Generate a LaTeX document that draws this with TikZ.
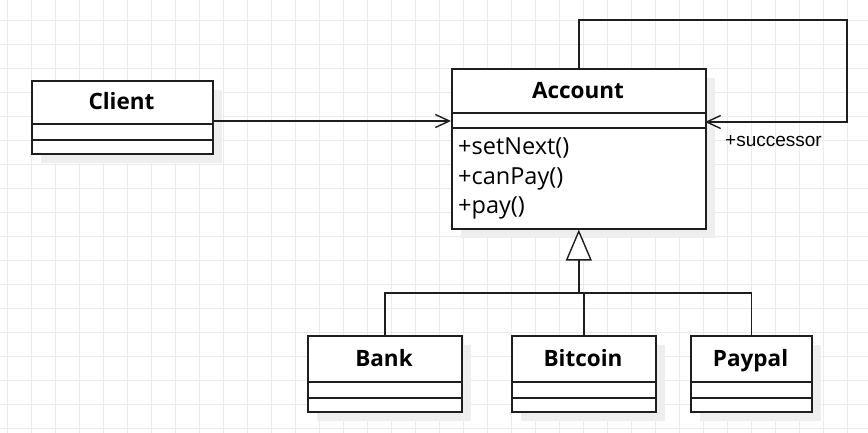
\documentclass[tikz,border=0pt]{standalone}
\usepackage{fontspec}
\setmainfont{Open Sans}
\newfontfamily\arialf{Liberation Sans}
\usetikzlibrary{arrows.meta}
\definecolor{gridc}{HTML}{EBEBEB}
\definecolor{shadowc}{HTML}{EEEEEE}
\definecolor{ink}{HTML}{1E1E1E}
\begin{document}
\begin{tikzpicture}[x=1pt,y=-1pt,
  box/.style={draw=ink, line width=1.6pt, fill=white, inner sep=0pt, anchor=north west},
  cname/.style={font=\fontsize{22.5}{24}\selectfont\bfseries, text=black, inner sep=0pt, anchor=base},
  meth/.style={font=\fontsize{23.5}{24}\selectfont, anchor=base west, inner sep=0pt, text=black},
  conn/.style={draw=ink, line width=1.4pt},
  divl/.style={draw=ink, line width=1.6pt}
]
\useasboundingbox (0,0) rectangle (868,433);
\fill[white] (0,0) rectangle (868,433);
\foreach \i in {0,...,35} \draw[gridc, line width=1pt] (7.5+24*\i,0) -- (7.5+24*\i,433);
\foreach \i in {0,...,17} \draw[gridc, line width=1pt] (0,20.5+24*\i) -- (868,20.5+24*\i);

% shadows
\fill[shadowc] (41,90) rectangle (222,163);
\fill[shadowc] (461,78) rectangle (715,238);
\fill[shadowc] (317,345) rectangle (471,421);
\fill[shadowc] (521,345) rectangle (665,421);
\fill[shadowc] (700,345) rectangle (821,421);

% boxes
\node[box, minimum width=181pt, minimum height=73pt] (client) at (31,80) {};
\node[box, minimum width=254pt, minimum height=160pt] (account) at (451,68) {};
\node[box, minimum width=154pt, minimum height=76pt] (bank) at (307,335) {};
\node[box, minimum width=144pt, minimum height=76pt] (bitcoin) at (511,335) {};
\node[box, minimum width=121pt, minimum height=76pt] (paypal) at (690,335) {};

% dividers
\draw[divl] (client.west |- 0,124) -- (client.east |- 0,124);
\draw[divl] (client.west |- 0,140) -- (client.east |- 0,140);
\draw[divl] (account.west |- 0,113) -- (account.east |- 0,113);
\draw[divl] (account.west |- 0,128) -- (account.east |- 0,128);
\foreach \n in {bank,bitcoin,paypal}{
  \draw[divl] (\n.west |- 0,382) -- (\n.east |- 0,382);
  \draw[divl] (\n.west |- 0,398) -- (\n.east |- 0,398);
}

% texts
\node[cname] (clientname) at (121.5,109.3) {Client};
\node[cname] (accountname) at (578,98.3) {Account};
\node[cname] (bankname) at (384,366.3) {Bank};
\node[cname] (bitcoinname) at (583,366.3) {Bitcoin};
\node[cname] (paypalname) at (750.5,366.3) {Paypal};
\node[meth] (m1) at (458,155) {+setNext()};
\node[meth] (m2) at (458,185) {+canPay()};
\node[meth] (m3) at (458,214) {+pay()};
\node[anchor=base west, inner sep=0pt, font=\arialf\fontsize{19}{22}\selectfont] (succl) at (725,146.7) {+successor};

% connectors
\coordinate (cy) at (0,121);
\draw[conn, -{Straight Barb[length=14pt,width=13pt]}] (client.east |- cy) -- (account.west |- cy);

\coordinate (looptr) at (847,20);
\coordinate (succ) at (705,122);
\draw[conn, -{Straight Barb[length=14pt,width=13pt]}] (account.north) |- (looptr) |- (succ);

\coordinate (hb) at (0,293);
\draw[conn] (bank.north) |- (paypal.north |- hb) -- (paypal.north);
\draw[conn] (bitcoin.north) -- (bitcoin.north |- hb);
\draw[conn, line width=1.8pt, -{Triangle[open, length=31pt, width=26pt, fill=white, line width=1.4pt]}] (account.south |- hb) -- (account.south);
\end{tikzpicture}
\end{document}
